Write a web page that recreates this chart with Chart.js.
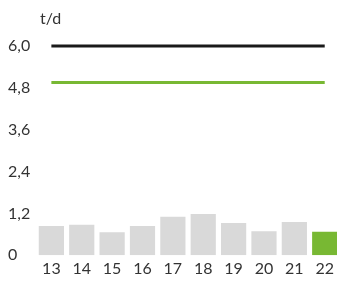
<!DOCTYPE html>
<html>
<head>
<meta charset="utf-8">
<script src="https://cdn.jsdelivr.net/npm/chart.js@4/dist/chart.umd.min.js"></script>
<style>
  html, body { margin: 0; padding: 0; background: #fff; overflow: hidden; }
  #wrap { width: 341px; height: 282px; }
</style>
</head>
<body>
<div id="wrap"><canvas id="chart"></canvas></div>
<script>
const days = ["13", "14", "15", "16", "17", "18", "19", "20", "21", "22"];
const actual = [0.84, 0.87, 0.66, 0.84, 1.10, 1.18, 0.92, 0.69, 0.95, 0.67];
const capacity = [6.0, 6.0, 6.0, 6.0, 6.0, 6.0, 6.0, 6.0, 6.0, 6.0];
const target = [4.95, 4.95, 4.95, 4.95, 4.95, 4.95, 4.95, 4.95, 4.95, 4.95];
const yTicks = [0, 1.2, 2.4, 3.6, 4.8, 6.0];

const grey = "#d9d9d9";
const green = "#78b833";

const unitLabel = {
    id: "unitLabel",
    afterDraw(chart) {
        const ctx = chart.ctx;
        ctx.save();
        ctx.fillStyle = "#333";
        ctx.font = "16px Lato";
        ctx.textBaseline = "middle";
        ctx.fillText("t/d", 40, 19);
        ctx.restore();
    }
};

new Chart(document.getElementById("chart"), {
    type: "bar",
    data: {
        labels: days,
        datasets: [
            {
                type: "line",
                data: capacity,
                borderColor: "#1a1a1a",
                borderWidth: 3,
                pointRadius: 0,
                clip: 6,
                order: 0
            },
            {
                type: "line",
                data: target,
                borderColor: green,
                borderWidth: 3,
                pointRadius: 0,
                order: 0
            },
            {
                data: actual,
                backgroundColor: actual.map((v, i) => i === actual.length - 1 ? green : grey),
                barPercentage: 0.83,
                categoryPercentage: 1,
                order: 1
            }
        ]
    },
    options: {
        responsive: true,
        maintainAspectRatio: false,
        animation: false,
        layout: { padding: { top: 46, left: 8, right: 0, bottom: 0 } },
        plugins: { legend: { display: false }, tooltip: { enabled: false } },
        scales: {
            x: {
                grid: { display: false, drawTicks: false },
                border: { display: false },
                ticks: { color: "#333", font: { family: "Lato", size: 16, lineHeight: 0.8 }, padding: 7 }
            },
            y: {
                min: 0,
                max: 6.0,
                afterBuildTicks(axis) {
                    axis.ticks = yTicks.map(v => ({ value: v }));
                },
                grid: { display: false, drawTicks: false },
                border: { display: false },
                ticks: {
                    color: "#333",
                    font: { family: "Lato", size: 16 },
                    crossAlign: "far",
                    padding: 3,
                    callback: v => v === 0 ? "0" : v.toFixed(1).replace(".", ",")
                }
            }
        }
    },
    plugins: [unitLabel]
});
</script>
</body>
</html>
